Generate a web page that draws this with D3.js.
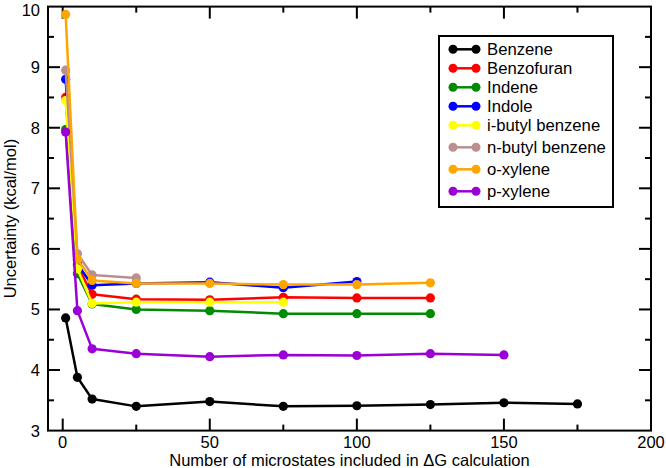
<!DOCTYPE html>
<html>
<head>
<meta charset="utf-8">
<script src="https://cdn.jsdelivr.net/npm/d3@7"></script>
<style>
  html, body { margin: 0; padding: 0; background: #fff; }
  svg { display: block; font-family: "Liberation Sans", Arial, Helvetica, sans-serif; }
</style>
</head>
<body>
<svg id="chart" width="666" height="468"></svg>
<script>
// ---- data ----
const xValues = [1, 5, 10, 25, 50, 75, 100, 125, 150, 175];
const seriesNames = ["Benzene", "Benzofuran", "Indene", "Indole", "i-butyl benzene", "n-butyl benzene", "o-xylene", "p-xylene"];
const seriesColors = ["#000000", "#ff0000", "#008b00", "#0000ff", "#ffff00", "#bc8f8f", "#ffa500", "#9b00d6"];
const benzene    = [4.86, 3.88, 3.52, 3.40, 3.48, 3.40, 3.41, 3.43, 3.46, 3.44];
const benzofuran = [8.50, 5.72, 5.25, 5.17, 5.16, 5.20, 5.19, 5.19];
const indene     = [7.97, 5.59, 5.09, 5.00, 4.98, 4.93, 4.93, 4.93];
const indole     = [8.80, 5.75, 5.40, 5.43, 5.45, 5.36, 5.46];
const ibutyl     = [8.45, 5.67, 5.10, 5.12, 5.12, 5.12];
const nbutyl     = [8.95, 5.92, 5.57, 5.52];
const oxylene    = [9.87, 5.83, 5.48, 5.43, 5.43, 5.41, 5.41, 5.44];
const pxylene    = [7.93, 4.98, 4.35, 4.27, 4.22, 4.25, 4.24, 4.27, 4.25];
const seriesValues = [benzene, benzofuran, indene, indole, ibutyl, nbutyl, oxylene, pxylene];
const xMajorTicks = [0, 50, 100, 150, 200];
const xMinorTicks = [25, 75, 125, 175];
const yMajorTicks = [3, 4, 5, 6, 7, 8, 9, 10];
const yMinorTicks = [3.5, 4.5, 5.5, 6.5, 7.5, 8.5, 9.5];
const xTitle = "Number of microstates included in \u0394G calculation";
const yTitle = "Uncertainty (kcal/mol)";

// ---- layout ----
const L = 48, R = 651, T = 6.6, B = 430.6;
const svg = d3.select("#chart");
const x = d3.scaleLinear().domain([-5, 200]).range([L, R]);
const y = d3.scaleLinear().domain([3, 10]).range([B, T]);
const fs = 16.5;

// frame
svg.append("rect").attr("x", L).attr("y", T).attr("width", R - L).attr("height", B - T)
  .attr("fill", "none").attr("stroke", "#000").attr("stroke-width", 2);

// ticks (inward, all sides)
const majLen = 12, minLen = 6;
const tg = svg.append("g").attr("stroke", "#000").attr("stroke-width", 2);
function xt(vals, len) {
  vals.forEach(v => {
    tg.append("line").attr("x1", x(v)).attr("x2", x(v)).attr("y1", B).attr("y2", B - len);
    tg.append("line").attr("x1", x(v)).attr("x2", x(v)).attr("y1", T).attr("y2", T + len);
  });
}
function yt(vals, len) {
  vals.forEach(v => {
    tg.append("line").attr("y1", y(v)).attr("y2", y(v)).attr("x1", L).attr("x2", L + len);
    tg.append("line").attr("y1", y(v)).attr("y2", y(v)).attr("x1", R).attr("x2", R - len);
  });
}
xt(xMajorTicks.filter(v => v > -5 && v < 200), majLen);
xt(xMinorTicks, minLen);
yt(yMajorTicks.filter(v => v > 3 && v < 10), majLen);
yt(yMinorTicks, minLen);

// tick labels
svg.append("g").selectAll("text").data(xMajorTicks).join("text")
  .attr("x", d => x(d)).attr("y", 448).attr("text-anchor", "middle")
  .attr("font-size", fs).text(d => d);
svg.append("g").selectAll("text").data(yMajorTicks).join("text")
  .attr("x", 40).attr("y", d => Math.max(y(d), 9.6)).attr("dy", "0.36em").attr("text-anchor", "end")
  .attr("font-size", fs).text(d => d);

// axis titles
svg.append("text").attr("x", (L + R) / 2).attr("y", 466).attr("text-anchor", "middle")
  .attr("font-size", fs).text(xTitle);
svg.append("text").attr("transform", `translate(16,${(T + B) / 2}) rotate(-90)`)
  .attr("text-anchor", "middle").attr("font-size", fs).text(yTitle);

// series
const line = d3.line().x(d => x(d[0])).y(d => y(d[1]));
seriesValues.forEach((vals, i) => {
  const pts = vals.map((v, j) => [xValues[j], v]);
  const g = svg.append("g");
  g.append("path").attr("d", line(pts)).attr("fill", "none")
    .attr("stroke", seriesColors[i]).attr("stroke-width", 2.5).attr("stroke-linejoin", "round");
  g.selectAll("circle").data(pts).join("circle")
    .attr("cx", d => x(d[0])).attr("cy", d => y(d[1])).attr("r", 4.6)
    .attr("fill", seriesColors[i]);
});

// legend
const lg = svg.append("g");
lg.append("rect").attr("x", 439).attr("y", 36).attr("width", 174).attr("height", 171)
  .attr("fill", "#fff").attr("stroke", "#000").attr("stroke-width", 2);
let ly = 49.3;
seriesNames.forEach((name, i) => {
  if (i > 0) ly += /[gjpqy]/.test(seriesNames[i - 1]) ? 22 : 19;
  lg.append("line").attr("x1", 453).attr("x2", 476).attr("y1", ly).attr("y2", ly)
    .attr("stroke", seriesColors[i]).attr("stroke-width", 2.5);
  [453, 476].forEach(cx => lg.append("circle").attr("cx", cx).attr("cy", ly).attr("r", 4.5).attr("fill", seriesColors[i]));
  lg.append("text").attr("x", 487).attr("y", ly).attr("dy", "0.36em")
    .attr("font-size", 16.7).text(name);
});
</script>
</body>
</html>
